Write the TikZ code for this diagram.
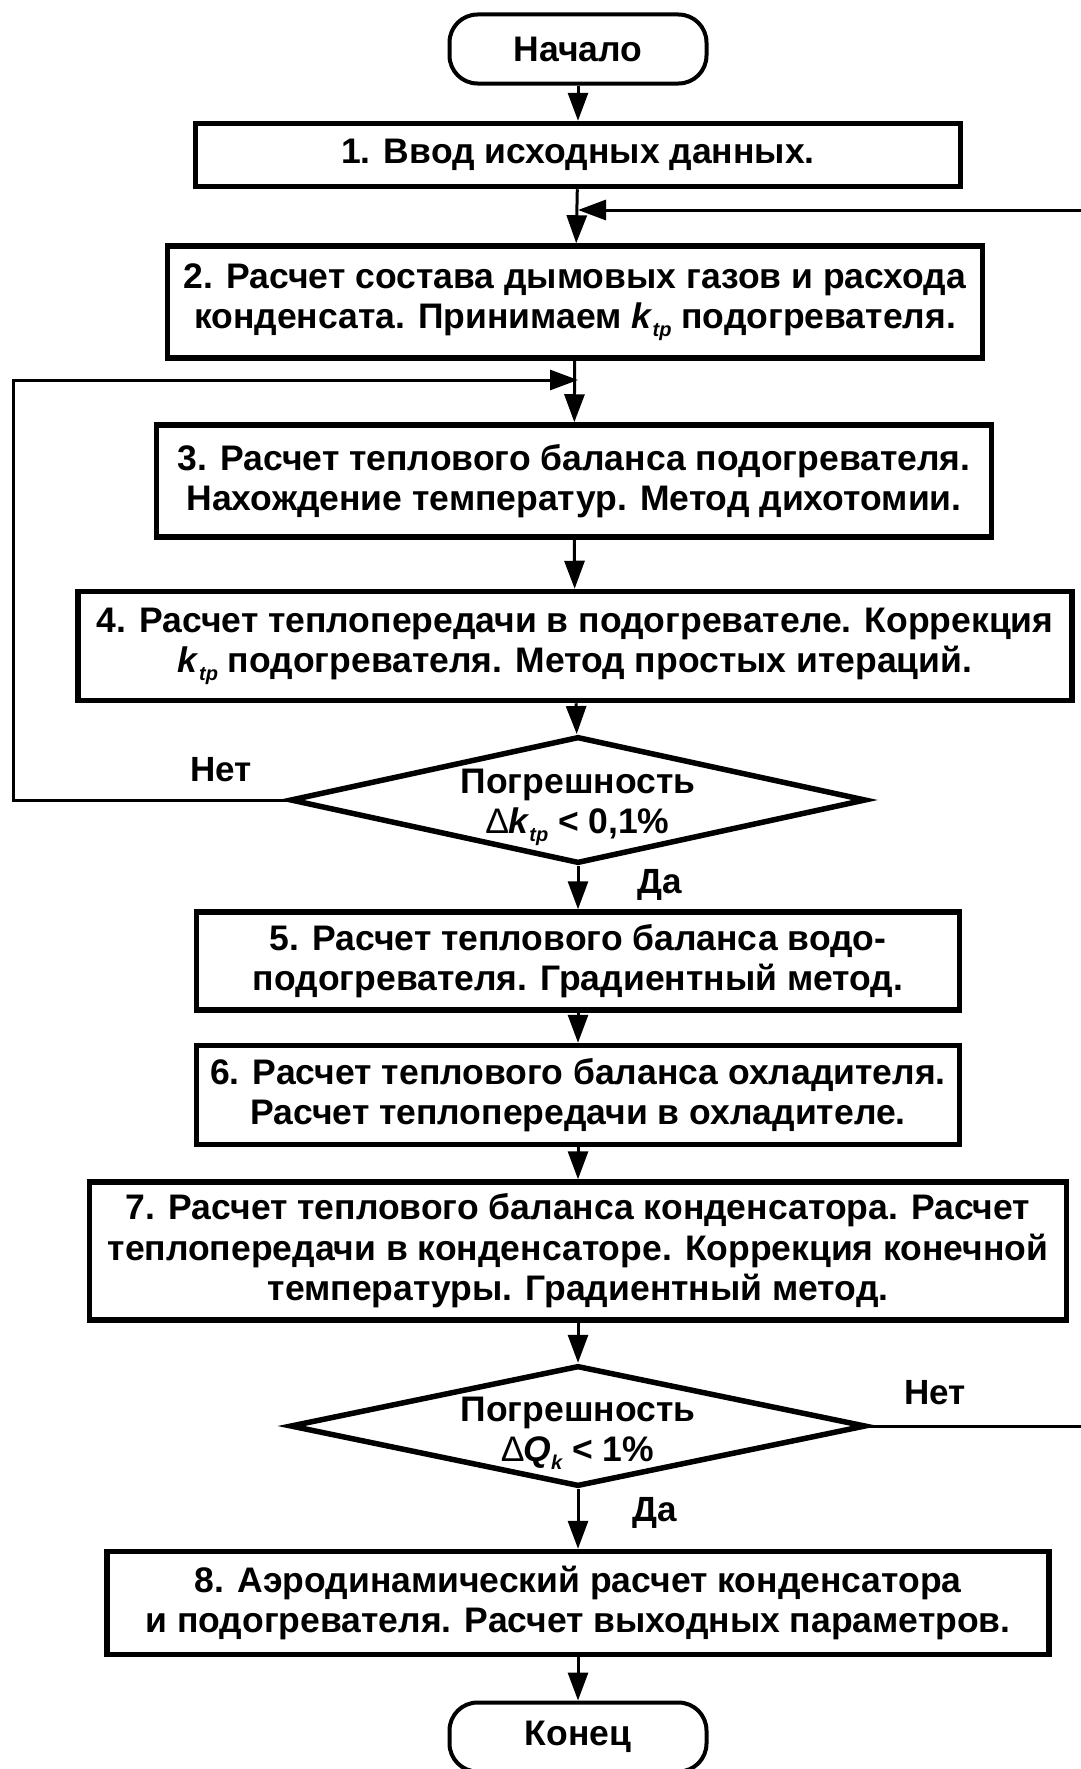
\documentclass[tikz,border=0pt]{standalone}
\usepackage{fontspec}
\setmainfont{Liberation Sans}
\usetikzlibrary{arrows.meta,shapes.geometric}
\newcommand{\ktp}{\textit{k}\raisebox{-0.4ex}{\fontsize{20}{20}\selectfont\itshape tp}}
\newcommand{\dlt}{{\mdseries\symbol{"2206}}}
\begin{document}
\begin{tikzpicture}[x=1pt,y=-1pt,
  every node/.style={font=\fontsize{35.5}{40.6}\selectfont\bfseries, inner sep=0pt, align=center},
  block/.style={draw, line width=5.5pt, rectangle},
  term/.style={draw, line width=4pt, rectangle, rounded corners=28pt, minimum width=257pt, minimum height=69pt},
  decision/.style={draw, line width=5.5pt, diamond, aspect=4.6},
  arr/.style={line width=3pt, -{Triangle[length=28pt,width=20pt]}},
  lbl/.style={font=\fontsize{35}{40}\selectfont\bfseries}
]
\useasboundingbox (0,0) rectangle (1081,1769);

\node[term] (start) at (578,49) {Начало};
\node[block, minimum width=765pt, minimum height=63pt] (b1) at (578,155) {1. Ввод исходных данных.};
\node[block, minimum width=815pt, minimum height=112pt] (b2) at (575,302) {2. Расчет состава дымовых газов и расхода\\конденсата. Принимаем \ktp{} подогревателя.};
\node[block, minimum width=835pt, minimum height=112pt] (b3) at (574,481) {3. Расчет теплового баланса подогревателя.\\Нахождение температур. Метод дихотомии.};
\node[block, minimum width=994pt, minimum height=109pt] (b4) at (575,646) {4. Расчет теплопередачи в подогревателе. Коррекция\\\ktp{} подогревателя. Метод простых итераций.};
\node[decision, minimum width=576pt, minimum height=127pt, inner sep=0pt] (d1) at (578,800) {};
\node (t1) at (578,807) {Погрешность\\\dlt\textit{k}\raisebox{-0.4ex}{\fontsize{20}{20}\selectfont\itshape tp} < 0,1\%};
\node[block, minimum width=763pt, minimum height=98pt] (b5) at (578,961) {5. Расчет теплового баланса водо-\\подогревателя. Градиентный метод.};
\node[block, minimum width=763pt, minimum height=99pt] (b6) at (578,1095) {6. Расчет теплового баланса охладителя.\\Расчет теплопередачи в охладителе.};
\node[block, minimum width=977pt, minimum height=138pt] (b7) at (578,1251) {7. Расчет теплового баланса конденсатора. Расчет\\теплопередачи в конденсаторе. Коррекция конечной\\температуры. Градиентный метод.};
\node[decision, minimum width=576pt, minimum height=121pt, inner sep=0pt] (d2) at (578,1426) {};
\node (t2) at (578,1433) {Погрешность\\\dlt\textit{Q}\raisebox{-0.4ex}{\fontsize{20}{20}\selectfont\itshape k} < 1\%};
\node[block, minimum width=942pt, minimum height=103pt] (b8) at (578,1603) {8. Аэродинамический расчет конденсатора\\и подогревателя. Расчет выходных параметров.};
\node[term] (end) at (578,1737) {Конец};

\node[lbl] (no1) at (221,770) {Нет};
\node[lbl] (yes1) at (660,885) {Да};
\node[lbl] (no2) at (935,1393) {Нет};
\node[lbl] (yes2) at (655,1513) {Да};

\coordinate (m1) at (578,210);
\coordinate (m2) at (578,380);
\coordinate (l1) at (13,800);
\coordinate (l2) at (13,380);
\coordinate (r1) at (1100,1426);
\coordinate (r2) at (1100,210);

\draw[arr] (start) -- (b1);
\draw[arr] (b1) -- (b2);
\draw[arr] (b2) -- (b3);
\draw[arr] (b3) -- (b4);
\draw[arr] (b4) -- (d1);
\draw[arr] (d1) -- (b5);
\draw[arr] (b5) -- (b6);
\draw[arr] (b6) -- (b7);
\draw[arr] (b7) -- (d2);
\draw[arr] (d2) -- (b8);
\draw[arr] (b8) -- (end);
\draw[arr] (d1.west) -- (l1) -- (l2) -- (m2);
\draw[arr] (d2.east) -- (r1) -- (r2) -- (m1);
\end{tikzpicture}
\end{document}
